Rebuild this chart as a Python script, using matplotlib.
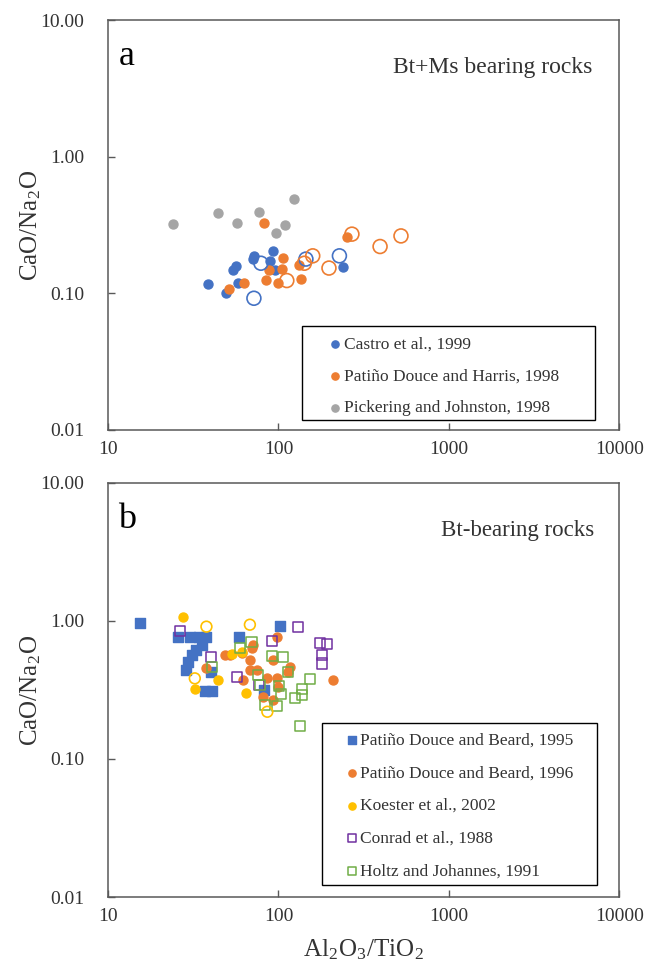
import matplotlib
matplotlib.use("Agg")
import matplotlib.pyplot as plt
from matplotlib.patches import Rectangle
from matplotlib.ticker import FixedLocator, FixedFormatter

plt.rcParams["font.family"] = ["Liberation Serif", "DejaVu Serif"]
plt.rcParams["mathtext.fontset"] = "stix"

# ---- panel a : Bt+Ms bearing rocks ----
castro_x = [38.6, 49.5, 53.8, 56.3, 58.0, 72.1, 71.1, 93.1, 89.1, 95.3, 240]
castro_y = [0.117, 0.100, 0.148, 0.159, 0.119, 0.188, 0.178, 0.204, 0.171, 0.148, 0.155]
castro_open_x = [78.9, 71.8, 145, 228]
castro_open_y = [0.166, 0.092, 0.178, 0.188]

harris_x = [82.4, 106, 87.9, 105, 84.4, 99.7, 132, 136, 63.0, 51.4, 252]
harris_y = [0.329, 0.181, 0.148, 0.151, 0.125, 0.119, 0.161, 0.127, 0.119, 0.108, 0.260]
harris_open_x = [159, 142, 112, 198, 270, 395, 524]
harris_open_y = [0.188, 0.166, 0.124, 0.153, 0.271, 0.220, 0.263]

pick_x = [23.9, 44.3, 57.3, 76.7, 110, 124, 96.4]
pick_y = [0.320, 0.389, 0.329, 0.392, 0.316, 0.493, 0.275]

# ---- panel b : Bt-bearing rocks ----
beard95_x = [15.3, 25.8, 30.1, 34.1, 37.8, 35.6, 33.0, 30.9, 29.5, 28.8, 40.1, 37.0, 40.8, 102, 58.6, 82.4]
beard95_y = [0.96, 0.77, 0.77, 0.77, 0.77, 0.670, 0.616, 0.567, 0.507, 0.441, 0.427, 0.313, 0.313, 0.92, 0.77, 0.316]

beard96_x = [37.8, 48.4, 51.8, 62.1, 68.0, 68.0, 69.5, 71.1, 74.5, 81.5, 85.3, 93.1, 93.1, 97.5, 97.5, 99.7, 117, 114, 210, 60.8]
beard96_y = [0.454, 0.567, 0.567, 0.374, 0.522, 0.441, 0.634, 0.670, 0.441, 0.283, 0.384, 0.522, 0.268, 0.77, 0.384, 0.334, 0.466, 0.429, 0.374, 0.583]

koester_x = [27.5, 44.3, 32.3, 64.4, 60.8, 53.1]
koester_y = [1.06, 0.374, 0.322, 0.303, 0.596, 0.577]
koester_open_x = [37.8, 32.3, 68.0, 86.1]
koester_open_y = [0.91, 0.384, 0.94, 0.220]

conrad_x = [26.4, 40.1, 57.4, 76.6, 91.2, 131, 175, 194, 180, 180]
conrad_y = [0.84, 0.551, 0.393, 0.341, 0.714, 0.91, 0.690, 0.681, 0.567, 0.492]

holtz_x = [40.5, 59.6, 69.5, 91.2, 107, 114, 76.0, 77.8, 101, 103, 138, 138, 125, 153, 83.4, 98.6, 134]
holtz_y = [0.466, 0.634, 0.708, 0.560, 0.548, 0.429, 0.406, 0.344, 0.338, 0.296, 0.319, 0.291, 0.275, 0.378, 0.246, 0.242, 0.173]

x_ticks = [10, 100, 1000, 10000]
x_labels = ["10", "100", "1000", "10000"]
y_ticks = [0.01, 0.1, 1, 10]
y_labels = ["0.01", "0.10", "1.00", "10.00"]

BLUE = "#4472C4"
ORANGE = "#ED7D31"
GRAY = "#A5A5A5"
YELLOW = "#FFC000"
PURPLE = "#7030A0"
GREEN = "#70AD47"
TXT = "#333333"

fig = plt.figure(figsize=(6.47, 9.71), dpi=100)
ax_a = fig.add_axes([0.167, 0.5572, 0.790, 0.4222])
ax_b = fig.add_axes([0.167, 0.0762, 0.790, 0.4264])


def style_axes(ax):
    ax.set_xscale("log")
    ax.set_yscale("log")
    ax.set_xlim(10, 10000)
    ax.set_ylim(0.01, 10)
    ax.xaxis.set_major_locator(FixedLocator(x_ticks))
    ax.xaxis.set_major_formatter(FixedFormatter(x_labels))
    ax.yaxis.set_major_locator(FixedLocator(y_ticks))
    ax.yaxis.set_major_formatter(FixedFormatter(y_labels))
    ax.minorticks_off()
    ax.tick_params(direction="in", length=5, width=1, colors="#595959",
                   labelcolor=TXT, labelsize=14)
    ax.tick_params(axis="x", pad=8)
    ax.tick_params(axis="y", pad=17)
    for s in ax.spines.values():
        s.set_color("#595959")
        s.set_linewidth(1.1)
    ax.set_ylabel("CaO/Na$_\\mathregular{2}$O", fontsize=18, color=TXT, labelpad=-2)


def boxed_legend(ax, anchor, rect, spacing):
    # legend entries without frame, box drawn separately to get Excel-like padding
    leg = ax.legend(loc="upper left", bbox_to_anchor=anchor, fontsize=12.5,
                    frameon=False, markerscale=0.8, handletextpad=0.1,
                    handlelength=0.8, labelspacing=spacing, borderpad=0,
                    borderaxespad=0)
    for t in leg.get_texts():
        t.set_color(TXT)
    ax.add_patch(Rectangle(rect[:2], rect[2], rect[3], transform=ax.transAxes,
                           facecolor="none", edgecolor="black", linewidth=1.0,
                           zorder=5))


# panel a
style_axes(ax_a)
ax_a.scatter(castro_x, castro_y, s=42, color=BLUE, label="Castro et al., 1999", zorder=3)
ax_a.scatter(harris_x, harris_y, s=42, color=ORANGE, label="Patiño Douce and Harris, 1998", zorder=3)
ax_a.scatter(pick_x, pick_y, s=42, color=GRAY, label="Pickering and Johnston, 1998", zorder=3)
ax_a.scatter(castro_open_x, castro_open_y, s=100, facecolors="none", edgecolors=BLUE, linewidths=1.2, zorder=4)
ax_a.scatter(harris_open_x, harris_open_y, s=100, facecolors="none", edgecolors=ORANGE, linewidths=1.2, zorder=4)
ax_a.text(0.02, 0.952, "a", transform=ax_a.transAxes, fontsize=26, va="top", ha="left")
ax_a.text(0.948, 0.91, "Bt+Ms bearing rocks", transform=ax_a.transAxes, fontsize=17,
          va="top", ha="right", color=TXT)
boxed_legend(ax_a, (0.4305, 0.228), (0.380, 0.024, 0.573, 0.229), 0.9)

# panel b
style_axes(ax_b)
ax_b.scatter(beard95_x, beard95_y, s=52, marker="s", color=BLUE, label="Patiño Douce and Beard, 1995", zorder=3)
ax_b.scatter(beard96_x, beard96_y, s=42, color=ORANGE, label="Patiño Douce and Beard, 1996", zorder=3)
ax_b.scatter(koester_x, koester_y, s=42, color=YELLOW, label="Koester et al., 2002", zorder=3)
ax_b.scatter(conrad_x, conrad_y, s=52, marker="s", facecolors="none", edgecolors=PURPLE,
             linewidths=1.1, label="Conrad et al., 1988", zorder=4)
ax_b.scatter(holtz_x, holtz_y, s=52, marker="s", facecolors="none", edgecolors=GREEN,
             linewidths=1.1, label="Holtz and Johannes, 1991", zorder=4)
ax_b.scatter(koester_open_x, koester_open_y, s=60, facecolors="none", edgecolors=YELLOW,
             linewidths=1.2, zorder=4)
ax_b.text(0.02, 0.952, "b", transform=ax_b.transAxes, fontsize=26, va="top", ha="left")
ax_b.text(0.952, 0.91, "Bt-bearing rocks", transform=ax_b.transAxes, fontsize=16.5,
          va="top", ha="right", color=TXT)
ax_b.set_xlabel("Al$_\\mathregular{2}$O$_\\mathregular{3}$/TiO$_\\mathregular{2}$",
                fontsize=18, color=TXT, labelpad=9)
boxed_legend(ax_b, (0.463, 0.397), (0.418, 0.029, 0.538, 0.392), 0.95)

fig.savefig("out.png", dpi=100)
